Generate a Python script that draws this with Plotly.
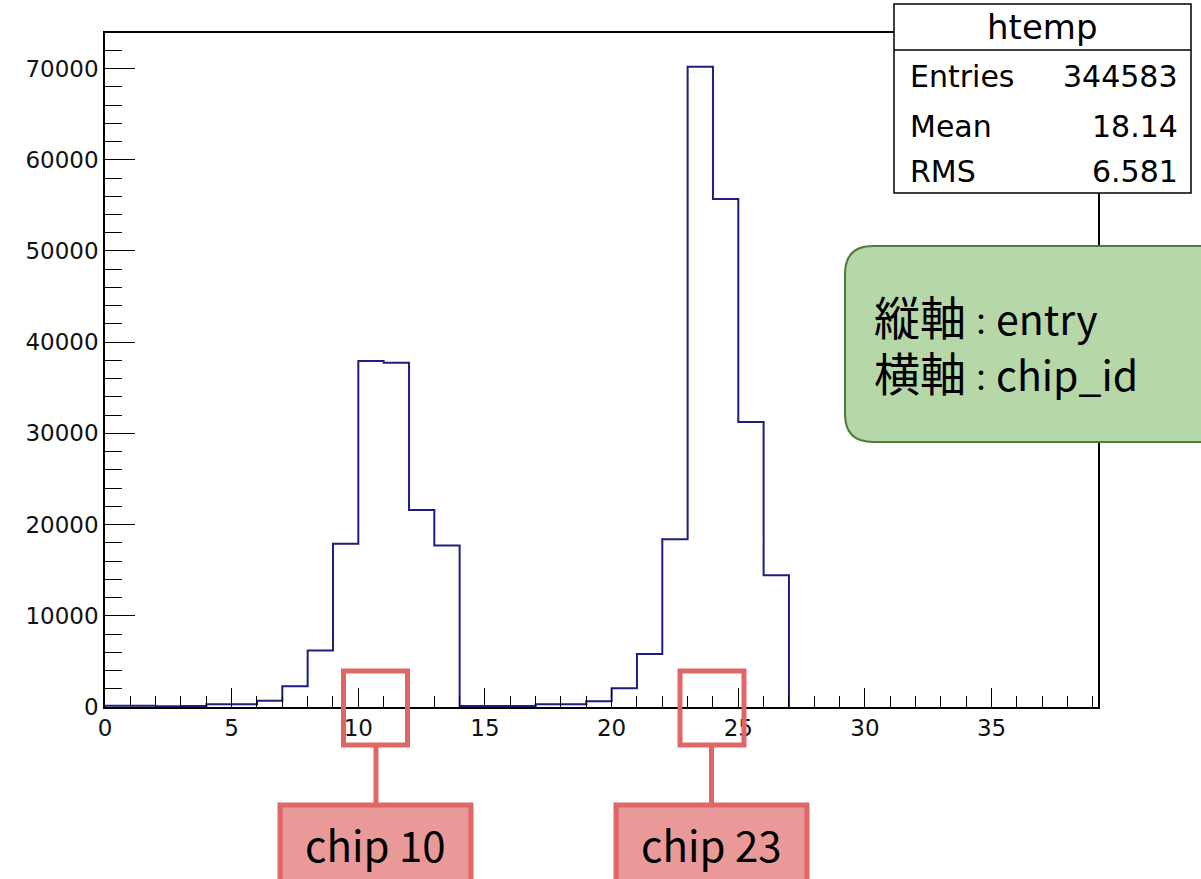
import plotly.graph_objects as go

# ---- histogram contents (one bin per chip_id, width 1) ----
bin_low_edges = [0, 1, 2, 3, 4, 5, 6, 7, 8, 9,
                 10, 11, 12, 13, 14, 15, 16, 17, 18, 19,
                 20, 21, 22, 23, 24, 25, 26, 27, 28, 29,
                 30, 31, 32, 33, 34, 35, 36, 37, 38]
bin_entries = [150, 130, 80, 120, 300, 310, 680, 2280, 6200, 17900,
               37950, 37750, 21600, 17700, 120, 110, 100, 290, 300, 620,
               2050, 5800, 18400, 70200, 55700, 31250, 14450, 0, 0, 0,
               0, 0, 0, 0, 0, 0, 0, 0, 0]
bin_width = 1

# ---- statistics box ----
hist_name = "htemp"
stat_names = ["Entries", "Mean", "RMS"]
stat_values = ["344583", "18.14", "6.581"]

# ---- notes ----
note_keys = ["縦軸", "横軸"]
note_vals = ["entry", "chip_id"]
chip_labels = ["chip 10", "chip 23"]

# ---- frame geometry in pixels ----
W, H = 1201, 879
PL, PR, PT, PB = 105, 1098, 33, 707


def px(x):
    return (x - PL) / (PR - PL)


def py(y):
    return (PB - y) / (PB - PT)


# step outline of the histogram; empty trailing bins sit under the axis line,
# so the outline stops after the last filled bin
last = max(i for i, v in enumerate(bin_entries) if v > 0)
edges = bin_low_edges[:last + 1]
vals = bin_entries[:last + 1]
step_x = [edges[0]] + edges + [edges[-1] + bin_width]
step_y = [0] + vals + [0]

fig = go.Figure()
fig.add_trace(go.Scatter(
    x=step_x, y=step_y, mode="lines", line_shape="hv",
    line=dict(color="#1e1e7e", width=2), hoverinfo="skip", showlegend=False,
))

tick_font = dict(family="DejaVu Sans", size=23, color="#111111")

fig.update_xaxes(
    range=[0, 39.2], showgrid=False, zeroline=False,
    showline=True, linecolor="black", linewidth=1.5, mirror=True,
    ticks="inside", tickcolor="black", tickwidth=1.2, ticklen=19,
    tick0=0, dtick=5, tickfont=tick_font,
    minor=dict(ticks="inside", dtick=1, ticklen=11, tickcolor="black", tickwidth=1.2),
)
fig.update_yaxes(
    range=[0, 73900], showgrid=False, zeroline=False,
    showline=True, linecolor="black", linewidth=1.5, mirror=True,
    ticks="inside", tickcolor="black", tickwidth=1.2, ticklen=30,
    tick0=0, dtick=10000, tickfont=tick_font, tickformat="d",
    minor=dict(ticks="inside", dtick=2000, ticklen=17, tickcolor="black", tickwidth=1.2),
)

shapes = []
annotations = []

# statistics box
sb_l, sb_r, sb_t, sb_b, sb_sep = 894, 1191, 4, 193, 50
shapes.append(dict(type="rect", xref="paper", yref="paper", layer="above",
                   x0=px(sb_l), x1=px(sb_r), y0=py(sb_b), y1=py(sb_t),
                   fillcolor="white", line=dict(color="black", width=1.5)))
shapes.append(dict(type="line", xref="paper", yref="paper", layer="above",
                   x0=px(sb_l), x1=px(sb_r), y0=py(sb_sep), y1=py(sb_sep),
                   line=dict(color="black", width=1.5)))
annotations.append(dict(xref="paper", yref="paper", x=px((sb_l + sb_r) / 2), y=py(27),
                        text=hist_name, showarrow=False, xanchor="center", yanchor="middle",
                        font=dict(family="DejaVu Sans", size=34, color="black")))
row_centres = [76, 126, 172]
for name, val, yc in zip(stat_names, stat_values, row_centres):
    annotations.append(dict(xref="paper", yref="paper", x=px(908), y=py(yc),
                            text=name, showarrow=False, xanchor="left", yanchor="middle",
                            font=dict(family="DejaVu Sans", size=30, color="black")))
    annotations.append(dict(xref="paper", yref="paper", x=px(1180), y=py(yc),
                            text=val, showarrow=False, xanchor="right", yanchor="middle",
                            font=dict(family="DejaVu Sans", size=30, color="black")))

# green rounded note box (runs off the right edge)
gl, gr, gt, gb, rad = 845, 1240, 246, 442, 28
path = (f"M {px(gl + rad)},{py(gt)} L {px(gr - rad)},{py(gt)} "
        f"Q {px(gr)},{py(gt)} {px(gr)},{py(gt + rad)} L {px(gr)},{py(gb - rad)} "
        f"Q {px(gr)},{py(gb)} {px(gr - rad)},{py(gb)} L {px(gl + rad)},{py(gb)} "
        f"Q {px(gl)},{py(gb)} {px(gl)},{py(gb - rad)} L {px(gl)},{py(gt + rad)} "
        f"Q {px(gl)},{py(gt)} {px(gl + rad)},{py(gt)} Z")
shapes.append(dict(type="path", xref="paper", yref="paper", layer="above", path=path,
                   fillcolor="#b6d7a8", line=dict(color="#4f7a38", width=2)))
note_centres = [315, 371]
for k, v, yc in zip(note_keys, note_vals, note_centres):
    line_text = (f'<span style="font-size:46px">{k}</span>'
                 f'<span style="font-size:30px">：</span>{v}')
    annotations.append(dict(xref="paper", yref="paper", x=px(872), y=py(yc),
                            text=line_text, showarrow=False,
                            xanchor="left", yanchor="middle", align="left",
                            font=dict(family="Noto Sans CJK JP", size=41, color="black")))

# red call-outs pointing at the chip bins
red_line = "#e06666"
callouts = [  # small box left/right, connector x, label box left/right
    (343.5, 407.5, 376, 280, 471),
    (680, 744, 711.5, 616, 807),
]
for (bl, br, cx, ll, lr), label in zip(callouts, chip_labels):
    shapes.append(dict(type="rect", xref="paper", yref="paper", layer="above",
                       x0=px(bl), x1=px(br), y0=py(745), y1=py(671),
                       fillcolor="rgba(0,0,0,0)", line=dict(color=red_line, width=5)))
    shapes.append(dict(type="line", xref="paper", yref="paper", layer="above",
                       x0=px(cx), x1=px(cx), y0=py(745), y1=py(805),
                       line=dict(color=red_line, width=5)))
    shapes.append(dict(type="rect", xref="paper", yref="paper", layer="above",
                       x0=px(ll), x1=px(lr), y0=py(900), y1=py(805),
                       fillcolor="#ea9999", line=dict(color=red_line, width=5)))
    annotations.append(dict(xref="paper", yref="paper", x=px((ll + lr) / 2), y=py(843),
                            text=label, showarrow=False, xanchor="center", yanchor="middle",
                            font=dict(family="Noto Sans CJK JP", size=42, color="black")))

fig.update_layout(
    width=W, height=H,
    margin=dict(l=PL, r=W - PR, t=PT, b=H - PB, pad=0),
    paper_bgcolor="white", plot_bgcolor="white",
    shapes=shapes, annotations=annotations,
    showlegend=False,
)

fig.write_html("out.html", config={"displayModeBar": False})
